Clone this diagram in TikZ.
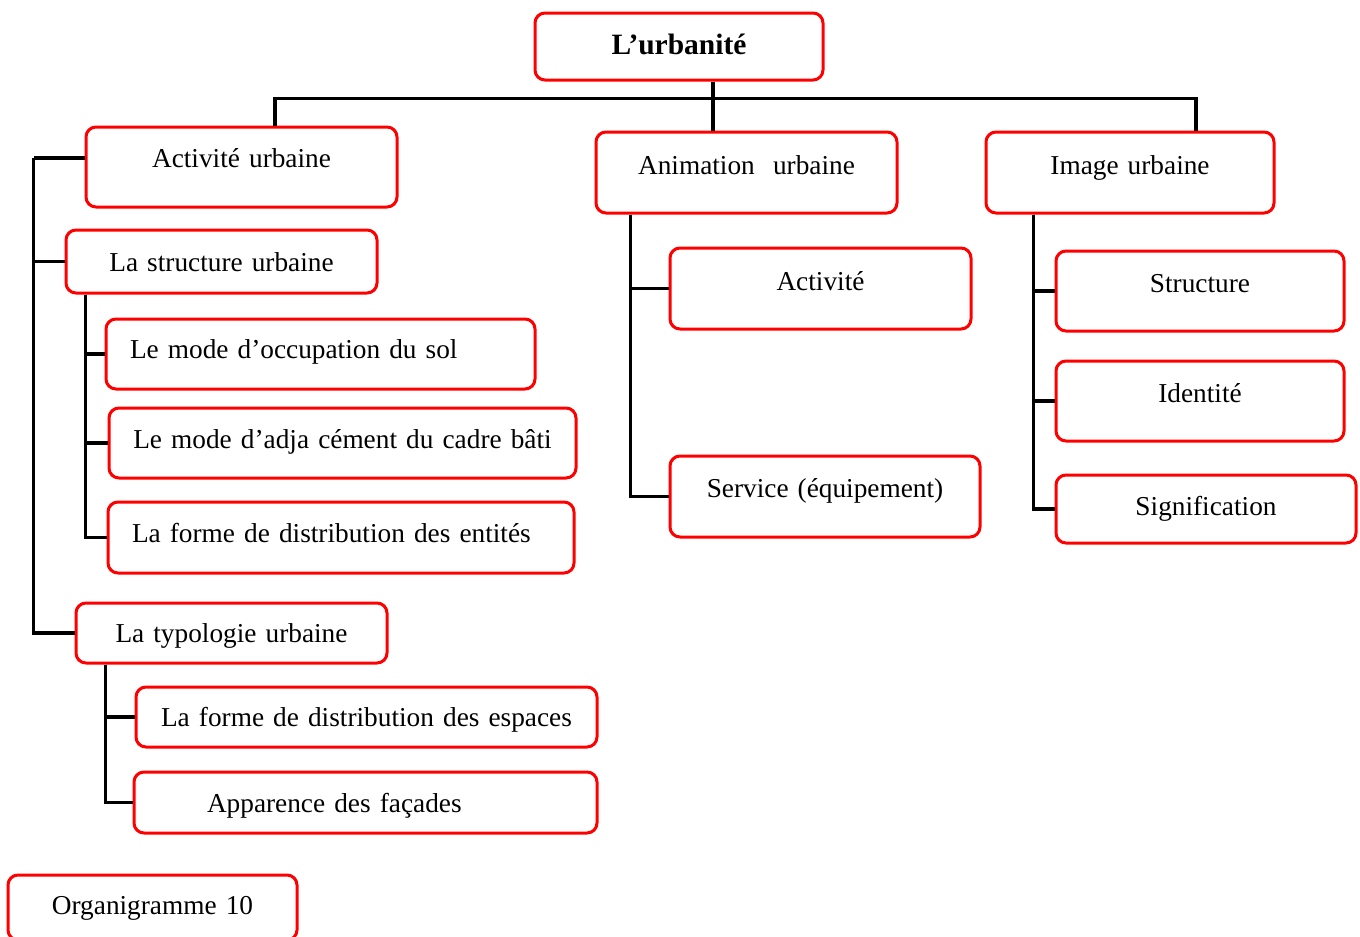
\documentclass[tikz,border=0pt]{standalone}
\usepackage{fontspec}
\setmainfont{Liberation Serif}
\definecolor{boxred}{HTML}{FF0000}
\tikzset{
  ubox/.style={draw=boxred, line width=3pt, rounded corners=10pt, fill=white,
    inner sep=0pt, anchor=north west, align=center,
    font=\fontsize{27.3}{33}\selectfont},
  dims/.style n args={3}{text width=#1pt, text height=#2pt, text depth=#3pt},
  padl/.style={align=left, inner xsep=#1pt},
  link/.style={black, line width=3.5pt}
}

\begin{document}
\begin{tikzpicture}[x=1pt, y=-1pt]
  \useasboundingbox (1.5,1.5) rectangle (1361.5,938.5);

  % ── Root ──
  \node[ubox, dims={288}{41}{26}, font=\fontsize{29.5}{35}\selectfont\bfseries]
    (root) at (535,13) {L’urbanité};

  % ── First level ──
  \node[ubox, dims={311}{40}{40}] (actU) at (86,127) {Activité urbaine};
  \node[ubox, dims={301}{42}{39}] (aniU) at (596,132) {Animation~~urbaine};
  \node[ubox, dims={288}{42}{39}] (imgU) at (986,132) {Image urbaine};

  % ── Left branch ──
  \node[ubox, dims={311}{41}{22}] (strU) at (66,230) {La structure urbaine};
  \node[ubox, padl=24, dims={381}{39}{31}] (occ) at (106,319) {Le mode d’occupation du sol};
  \node[ubox, dims={467}{40}{30}] (adj) at (109,408) {Le mode d’adja cément du cadre bâti};
  \node[ubox, padl=24, dims={418}{40}{31}] (ent) at (108,502) {La forme de distribution des entités};
  \node[ubox, dims={311}{39}{21}] (typ) at (76,603) {La typologie urbaine};
  \node[ubox, dims={461}{39}{21}] (esp) at (136,687) {La forme de distribution des espaces};
  \node[ubox, padl=73, dims={317}{40}{21}] (app) at (134,772) {Apparence des façades};

  % ── Middle branch ──
  \node[ubox, dims={301}{42}{39}] (act) at (670,248) {Activité};
  \node[ubox, dims={310}{41}{40}] (srv) at (670,456) {Service (équipement)};

  % ── Right branch ──
  \node[ubox, dims={288}{41}{39}] (stc) at (1056,251) {Structure};
  \node[ubox, dims={288}{41}{39}] (idt) at (1056,361) {Identité};
  \node[ubox, dims={300}{40}{28}] (sig) at (1056,475) {Signification};

  % ── Caption box ──
  \node[ubox, dims={289}{39}{26}] (org) at (8,875) {Organigramme 10};

  % ── Connectors ──
  \draw[link] ([xshift=34pt]root.south) -- ([xshift=-33.5pt]aniU.north);
  \draw[link] ([xshift=33.5pt]actU.north) -- ++(0,-27) -| ([xshift=66pt]imgU.north);

  \draw[link] ([yshift=9pt]actU.west) -- ++(-51,0) coordinate (spine);
  \draw[link] (spine) |- (strU.west);
  \draw[link] (spine) |- (typ.west);

  \foreach \n in {occ,adj,ent}
    \draw[link] ([xshift=21pt]strU.south west) |- (\n.west);
  \foreach \n in {esp,app}
    \draw[link] ([xshift=31pt]typ.south west) |- (\n.west);
  \foreach \n in {act,srv}
    \draw[link] ([xshift=36pt]aniU.south west) |- (\n.west);
  \foreach \n in {stc,idt,sig}
    \draw[link] ([xshift=49pt]imgU.south west) |- (\n.west);

\end{tikzpicture}
\end{document}
